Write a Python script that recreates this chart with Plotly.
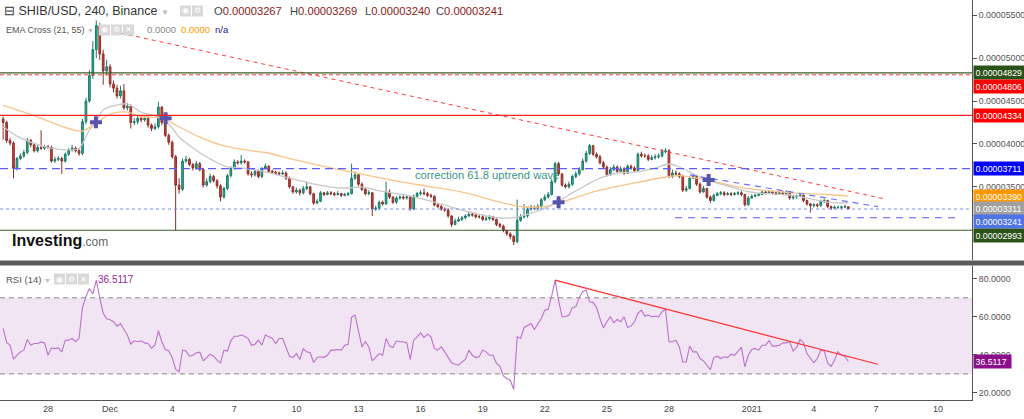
import pandas as pd
import plotly.graph_objects as go

# ---------------- data (prices in units of 1e-8 USD) ----------------
SCALE = 1e-8
START = pd.Timestamp("2020-11-25 20:00")
STEP = pd.Timedelta(hours=4)

first_open = 4290
close = [
    4250, 4040, 4010, 3715, 3830, 3860, 3900, 4040, 3990, 3920,
    3960, 3950, 3970, 3960, 3800, 3820, 3830, 3800, 3880, 3930,
    3950, 3920, 3890, 4260, 4500, 4800, 5100, 5380, 5050, 4850,
    4900, 4700, 4650, 4560, 4620, 4420, 4440, 4250, 4260, 4300,
    4280, 4300, 4220, 4180, 4200, 4430, 4250, 4100, 4020, 3850,
    3520, 3470, 3800, 3820, 3760, 3720, 3770, 3700, 3520, 3560,
    3620, 3570, 3510, 3380, 3480, 3630, 3720, 3790, 3780, 3800,
    3790, 3650, 3640, 3680, 3620, 3710, 3740, 3680, 3670, 3660,
    3650, 3660, 3600, 3500, 3440, 3460, 3430, 3480, 3500, 3420,
    3310, 3330, 3430, 3410, 3430, 3420, 3410, 3420, 3400, 3410,
    3420, 3600, 3640, 3530, 3470, 3420, 3430, 3240, 3250, 3320,
    3300, 3440, 3380, 3320, 3370, 3380, 3370, 3380, 3240, 3390,
    3420, 3430, 3420, 3400, 3390, 3290, 3270, 3240, 3230, 3160,
    3060, 3100, 3120, 3140, 3160, 3180, 3170, 3150, 3150, 3120,
    3130, 3150, 3120, 3060, 3040, 2990, 2950, 2920, 2860, 3110,
    3150, 3160, 3240, 3260, 3250, 3270, 3350, 3380, 3410, 3560,
    3770, 3650, 3520, 3500, 3530, 3620, 3650, 3700, 3800, 3890,
    3980, 3880, 3850, 3780, 3730, 3640, 3700, 3730, 3680, 3710,
    3660, 3740, 3720, 3690, 3880, 3860, 3860, 3820, 3840, 3850,
    3860, 3910, 3920, 3620, 3660, 3650, 3620, 3460, 3480, 3600,
    3620, 3530, 3440, 3480, 3380, 3340, 3400, 3420, 3430, 3410,
    3420, 3410, 3420, 3430, 3410, 3290, 3370, 3390, 3400, 3410,
    3440, 3430, 3440, 3430, 3420, 3430, 3420, 3440, 3370, 3380,
    3390, 3400, 3340, 3300, 3280, 3290, 3280, 3330, 3340, 3270,
    3250, 3260, 3260, 3265, 3267, 3241,
]
high = [
    4320, 4270, 4070, 4030, 3850, 3890, 3930, 4070, 4060, 4010,
    3990, 4160, 3990, 3990, 3980, 3850, 3860, 3850, 3900, 3950,
    3990, 3970, 3940, 4290, 4540, 4860, 5200, 5440, 5410, 5100,
    4980, 4930, 4740, 4690, 4680, 4700, 4480, 4460, 4300, 4330,
    4320, 4330, 4320, 4240, 4240, 4490, 4440, 4270, 4120, 4040,
    3870, 3600, 3830, 3860, 3840, 3780, 3800, 3790, 3720, 3600,
    3650, 3640, 3590, 3530, 3500, 3650, 3740, 3820, 3810, 3870,
    3820, 3800, 3680, 3700, 3700, 3730, 3770, 3750, 3700, 3690,
    3680, 3690, 3680, 3620, 3510, 3490, 3480, 3510, 3560, 3510,
    3430, 3360, 3450, 3440, 3450, 3450, 3440, 3450, 3430, 3430,
    3440, 3770, 3680, 3660, 3550, 3490, 3460, 3440, 3280, 3340,
    3340, 3560, 3470, 3390, 3390, 3400, 3400, 3400, 3400, 3410,
    3440, 3460, 3480, 3440, 3420, 3400, 3310, 3290, 3260, 3250,
    3170, 3130, 3150, 3160, 3180, 3210, 3200, 3190, 3180, 3170,
    3160, 3170, 3160, 3130, 3080, 3060, 3000, 2970, 2940, 3350,
    3180, 3300, 3260, 3290, 3280, 3300, 3370, 3410, 3440, 3590,
    3790, 3790, 3660, 3540, 3560, 3640, 3680, 3730, 3830, 3920,
    4000, 3990, 3900, 3870, 3800, 3750, 3730, 3760, 3750, 3740,
    3730, 3760, 3760, 3740, 3900, 3910, 3890, 3880, 3870, 3880,
    3890, 3940, 3950, 3940, 3700, 3690, 3670, 3640, 3510, 3620,
    3650, 3640, 3550, 3510, 3490, 3400, 3420, 3440, 3450, 3450,
    3440, 3440, 3440, 3450, 3450, 3420, 3390, 3410, 3420, 3430,
    3460, 3460, 3460, 3460, 3450, 3450, 3450, 3460, 3450, 3400,
    3410, 3420, 3410, 3350, 3310, 3310, 3310, 3350, 3360, 3350,
    3280, 3280, 3280, 3280, 3290, 3269,
]
low = [
    4050, 4010, 3980, 3600, 3690, 3810, 3840, 3880, 3960, 3900,
    3900, 3930, 3930, 3940, 3780, 3780, 3800, 3650, 3780, 3860,
    3910, 3900, 3860, 3870, 4230, 4480, 4760, 5000, 4980, 4690,
    4800, 4660, 4600, 4530, 4530, 4400, 4390, 4180, 4220, 4230,
    4250, 4260, 4190, 4150, 4160, 4180, 4220, 4080, 3990, 3830,
    2993, 3420, 3450, 3780, 3740, 3690, 3700, 3680, 3490, 3500,
    3540, 3550, 3480, 3330, 3360, 3460, 3610, 3700, 3760, 3760,
    3770, 3630, 3610, 3620, 3600, 3600, 3700, 3660, 3650, 3640,
    3630, 3640, 3580, 3480, 3420, 3420, 3400, 3410, 3460, 3400,
    3290, 3300, 3320, 3390, 3400, 3400, 3390, 3400, 3380, 3390,
    3390, 3410, 3580, 3510, 3450, 3400, 3400, 3160, 3220, 3230,
    3280, 3290, 3360, 3300, 3300, 3350, 3350, 3350, 3220, 3230,
    3380, 3400, 3400, 3380, 3370, 3270, 3250, 3220, 3210, 3140,
    3030, 3050, 3090, 3100, 3120, 3150, 3150, 3130, 3130, 3100,
    3100, 3110, 3100, 3040, 3020, 2970, 2930, 2890, 2820, 2840,
    3090, 3130, 3140, 3220, 3230, 3230, 3250, 3330, 3360, 3400,
    3540, 3630, 3500, 3480, 3480, 3510, 3600, 3630, 3690, 3780,
    3870, 3860, 3830, 3760, 3710, 3620, 3630, 3680, 3660, 3670,
    3640, 3650, 3700, 3670, 3680, 3840, 3840, 3800, 3810, 3820,
    3830, 3840, 3890, 3600, 3600, 3630, 3600, 3440, 3440, 3470,
    3590, 3510, 3420, 3430, 3360, 3310, 3330, 3390, 3400, 3390,
    3400, 3390, 3400, 3400, 3390, 3270, 3280, 3360, 3380, 3390,
    3400, 3410, 3420, 3410, 3400, 3410, 3400, 3400, 3350, 3350,
    3360, 3380, 3320, 3280, 3200, 3260, 3260, 3270, 3310, 3250,
    3230, 3240, 3240, 3240, 3250, 3240,
]
rsi = [
    53.9, 46.5, 45.1, 37.8, 39.8, 41.6, 42.5, 48.1, 45.2, 46.0,
    46.0, 46.8, 46.3, 39.8, 43.6, 43.3, 43.7, 41.6, 47.7, 47.7,
    48.6, 46.9, 48.6, 65.0, 70.5, 74.9, 72.0, 79.3, 70.0, 61.8,
    59.0, 58.5, 57.4, 55.1, 56.5, 53.4, 50.4, 45.6, 47.4, 46.9,
    47.4, 46.3, 46.0, 43.5, 45.1, 52.7, 46.9, 42.8, 42.1, 38.6,
    32.5, 31.1, 42.5, 42.1, 39.3, 39.8, 41.1, 41.4, 36.9, 38.6,
    40.4, 39.3, 37.2, 35.8, 42.5, 42.0, 47.4, 49.8, 49.8, 50.4,
    49.8, 48.6, 45.0, 45.6, 47.7, 45.1, 50.4, 49.5, 48.6, 46.0,
    48.6, 48.6, 43.9, 39.3, 38.6, 40.7, 37.6, 43.2, 41.6, 41.1,
    36.0, 38.6, 39.0, 38.6, 39.8, 42.5, 42.5, 42.8, 42.5, 45.0,
    45.6, 59.7, 60.9, 53.0, 44.2, 46.9, 44.2, 36.9, 38.6, 40.7,
    39.8, 48.6, 44.6, 43.9, 47.4, 46.9, 46.9, 46.3, 37.6, 47.7,
    49.5, 51.6, 49.2, 50.9, 49.5, 43.4, 42.5, 44.2, 41.6, 39.0,
    35.8, 35.1, 34.6, 36.3, 37.6, 42.5, 39.8, 38.6, 39.0, 42.5,
    41.6, 39.8, 39.8, 35.5, 34.0, 29.0, 27.6, 26.7, 21.8, 49.5,
    48.6, 54.4, 55.5, 56.5, 53.4, 56.2, 59.1, 63.5, 63.9, 71.0,
    79.3, 68.8, 60.0, 60.0, 60.9, 64.9, 65.3, 70.2, 73.2, 74.1,
    67.9, 67.6, 64.9, 59.1, 54.2, 57.4, 60.0, 56.9, 58.6, 57.4,
    60.0, 54.4, 55.1, 57.4, 61.8, 63.5, 60.4, 60.9, 60.0, 60.4,
    60.0, 62.7, 63.9, 46.9, 46.9, 47.7, 44.2, 36.3, 36.3, 44.6,
    41.6, 41.6, 38.1, 36.9, 34.6, 32.3, 38.6, 39.3, 38.1, 39.0,
    38.6, 40.4, 39.8, 41.6, 43.9, 33.7, 39.8, 42.8, 43.4, 42.5,
    45.1, 45.1, 47.4, 44.6, 44.6, 45.1, 46.3, 46.3, 46.9, 42.1,
    43.9, 48.1, 46.3, 40.7, 38.1, 35.8, 38.1, 42.5, 42.1, 35.8,
    34.0, 37.2, 41.6, 39.8, 39.3, 36.5117,
]

ema55_idx = [0, 9, 19, 23, 27, 32, 36, 40, 46, 51, 57, 63, 72, 76, 85, 95, 105, 115,
             124, 134, 144, 150, 156, 161, 168, 173, 183, 193, 196, 204, 214, 223, 233, 239, 245]
ema55_val = [4450, 4330, 4180, 4150, 4250, 4360, 4370, 4320, 4300, 4200, 4080, 3990, 3920,
             3900, 3810, 3720, 3640, 3560, 3500, 3430, 3320, 3270, 3265, 3310, 3400, 3460,
             3545, 3620, 3630, 3580, 3490, 3450, 3420, 3410, 3390]
ema21_idx = [0, 5, 14, 19, 22, 25, 27, 29, 33, 36, 40, 45, 48, 51, 55, 59, 65, 69, 75, 85,
             95, 100, 104, 108, 113, 118, 125, 134, 144, 149, 154, 159, 164, 168, 173, 178,
             183, 189, 193, 196, 202, 204, 209, 214, 219, 228, 233, 239, 245]
ema21_val = [4200, 4070, 3950, 3930, 3950, 4160, 4256, 4396, 4454, 4466, 4372, 4314, 4233,
             4081, 3953, 3848, 3731, 3719, 3684, 3579, 3497, 3486, 3497, 3462, 3427, 3392,
             3322, 3217, 3136, 3147, 3206, 3287, 3404, 3497, 3602, 3661, 3672, 3719, 3766,
             3731, 3614, 3580, 3521, 3462, 3427, 3404, 3369, 3322, 3311]
cross_idx = [26.9, 47.1, 161.0, 204.5]
cross_val = [4252, 4300, 3319, 3580]

level_vals = [4829, 4806, 4334, 3711, 3241, 2993]
label_vals = [4829, 4806, 4334, 3711, 3390, 3311, 3241, 2993]

red_trend_t = ["2020-11-30 08:49", "2021-01-07 10:20"]
red_trend_v = [5353, 3358]
blue_trend_t = ["2020-12-29 00:15", "2021-01-07 02:20"]
blue_trend_v = [3638, 3268]
support_t = ["2020-12-28 07:00", "2021-01-10 19:40"]
support_v = [3139, 3139]
rsi_trend_t = ["2020-12-22 11:50", "2021-01-07 02:20"]
rsi_trend_v = [79.3, 35.1]

x_tickvals = ["2020-11-28", "2020-12-01", "2020-12-04", "2020-12-07", "2020-12-10",
              "2020-12-13", "2020-12-16", "2020-12-19", "2020-12-22", "2020-12-25",
              "2020-12-28", "2021-01-01", "2021-01-04", "2021-01-07", "2021-01-10"]
x_ticktext = ["28", "Dec", "4", "7", "10", "13", "16", "19", "22", "25", "28",
              "2021", "4", "7", "10"]
price_ticks = [3500, 4000, 4500, 5000, 5500]
rsi_ticks = [20, 40, 60, 80]
ohlc_text = [("O", 3267), ("H", 3269), ("L", 3240), ("C", 3241)]

# ---------------- derived ----------------
n = len(close)
times = [START + STEP * i for i in range(n)]
opens = [first_open] + close[:-1]
sc = lambda a: [v * SCALE for v in a]
tt = lambda idx: [START + STEP * i for i in idx]

PLOT_W, PLOT_H = 972, 400
px = lambda x: x / PLOT_W
py = lambda y: (PLOT_H - y) / PLOT_H
FONT = "Liberation Sans"
SMALL = 8.8

fig = go.Figure()
fig.add_trace(go.Candlestick(
    x=times, open=sc(opens), high=sc(high), low=sc(low), close=sc(close),
    increasing=dict(line=dict(color="#1d7a68", width=1), fillcolor="#2aae94"),
    decreasing=dict(line=dict(color="#8f2f28", width=1), fillcolor="#c4463c"),
    whiskerwidth=0, showlegend=False, xaxis="x", yaxis="y"))
fig.add_trace(go.Scatter(x=tt(ema55_idx), y=sc(ema55_val), mode="lines",
                         line=dict(color="#f8c48c", width=1.3, shape="spline"),
                         xaxis="x", yaxis="y"))
fig.add_trace(go.Scatter(x=tt(ema21_idx), y=sc(ema21_val), mode="lines",
                         line=dict(color="#c8c8c8", width=1.3, shape="spline"),
                         xaxis="x", yaxis="y"))
fig.add_trace(go.Scatter(x=red_trend_t, y=sc(red_trend_v), mode="lines",
                         line=dict(color="#ff3b3b", width=1, dash="4px,4px"),
                         xaxis="x", yaxis="y"))
fig.add_trace(go.Scatter(x=blue_trend_t, y=sc(blue_trend_v), mode="lines",
                         line=dict(color="#6d6dff", width=1.2, dash="6px,5px"),
                         xaxis="x", yaxis="y"))
fig.add_trace(go.Scatter(x=support_t, y=sc(support_v), mode="lines",
                         line=dict(color="#5c5cff", width=1.2, dash="7px,6px"),
                         xaxis="x", yaxis="y"))
fig.add_trace(go.Scatter(x=tt(cross_idx), y=sc(cross_val), mode="markers",
                         marker=dict(symbol="cross", size=10, color="#5555b0",
                                     line=dict(width=0)),
                         xaxis="x", yaxis="y"))
fig.add_trace(go.Scatter(x=times, y=rsi, mode="lines",
                         line=dict(color="#bb72cc", width=1.1),
                         xaxis="x", yaxis="y2"))
fig.add_trace(go.Scatter(x=rsi_trend_t, y=rsi_trend_v, mode="lines",
                         line=dict(color="#ff3030", width=1.2),
                         xaxis="x", yaxis="y2"))

shapes = []
level_styles = [("#3d5f2a", "solid", 1.2), ("#ff3b3b", "4px,3px", 1),
                ("#ff2020", "solid", 1.2), ("#5c5cff", "8px,5px", 1.3),
                ("#7a8cff", "dot", 1.2), ("#3d5f2a", "solid", 1.2)]
for v, (c, d, w) in zip(level_vals, level_styles):
    shapes.append(dict(type="line", xref="paper", x0=0, x1=1, yref="y",
                       y0=v * SCALE, y1=v * SCALE, line=dict(color=c, dash=d, width=w)))
# RSI band
shapes.append(dict(type="rect", xref="paper", x0=0, x1=1, yref="y2", y0=30, y1=70,
                   fillcolor="#f2e5f3", line=dict(width=0), layer="below"))
for lv in (30, 70):
    shapes.append(dict(type="line", xref="paper", x0=0, x1=1, yref="y2", y0=lv, y1=lv,
                       line=dict(color="#8a8a8a", dash="5px,4px", width=1), layer="below"))
# separator
shapes.append(dict(type="rect", xref="paper", x0=0, x1=1024 / PLOT_W, yref="paper",
                   y0=py(265.5), y1=py(260.5), fillcolor="#5b5b5b", line=dict(width=0)))

annotations = []
# icons
icon_sets = [([180, 192], 11), ([99, 111, 123], 30), ([54, 66, 78], 279)]
glyphs = ["◉", "⚙", "✕"]
for xs, yc in icon_sets:
    for k, x0 in enumerate(xs):
        shapes.append(dict(type="rect", xref="paper", yref="paper",
                           x0=px(x0), x1=px(x0 + 11), y0=py(yc + 5.5), y1=py(yc - 5.5),
                           fillcolor="#d9d9d9", line=dict(width=0)))
        annotations.append(dict(xref="paper", yref="paper", x=px(x0 + 5.5), y=py(yc),
                                text=glyphs[k], showarrow=False, xanchor="center",
                                yanchor="middle",
                                font=dict(size=8, color="#ffffff", family="DejaVu Sans")))

annotations.append(dict(xref="paper", yref="paper", x=px(2), y=py(11), xanchor="left",
                        yanchor="middle", showarrow=False,
                        text="⊟ SHIB/USD, 240, Binance <span style='font-size:8px;color:#bbbbbb'>▼</span>",
                        font=dict(size=12.5, color="#333333", family=FONT)))
for (lab, val), x0 in zip(ohlc_text, [212, 288, 363, 434]):
    annotations.append(dict(xref="paper", yref="paper", x=px(x0), y=py(11), xanchor="left",
                            yanchor="middle", showarrow=False,
                            text=f"{lab}<span style='color:#8a1c14'>{val * SCALE:.8f}</span>",
                            font=dict(size=11.2, color="#444444", family=FONT)))
annotations.append(dict(xref="paper", yref="paper", x=px(4), y=py(30), xanchor="left",
                        yanchor="middle", showarrow=False,
                        text="EMA Cross (21, 55) <span style='font-size:7px;color:#bbbbbb'>▼</span>",
                        font=dict(size=9, color="#555555", family=FONT)))
for txt, x0, col in [("0.0000", 145, "#888888"), ("0.0000", 179, "#ff9900"),
                     ("n/a", 213, "#1a1a8c")]:
    annotations.append(dict(xref="paper", yref="paper", x=px(x0), y=py(30), xanchor="left",
                            yanchor="middle", showarrow=False, text=txt,
                            font=dict(size=9.5, color=col, family=FONT)))
annotations.append(dict(xref="paper", yref="paper", x=px(4), y=py(279), xanchor="left",
                        yanchor="middle", showarrow=False,
                        text="RSI (14) <span style='font-size:7px;color:#bbbbbb'>▼</span>",
                        font=dict(size=9.5, color="#555555", family=FONT)))
annotations.append(dict(xref="paper", yref="paper", x=px(96), y=py(279), xanchor="left",
                        yanchor="middle", showarrow=False, text=f"{rsi[-1]:.4f}",
                        font=dict(size=10, color="#8e2a92", family=FONT)))
annotations.append(dict(xref="paper", yref="paper", x=px(10), y=py(240), xanchor="left",
                        yanchor="middle", showarrow=False,
                        text="<b>Investing</b><span style='font-size:12px;color:#666666'>.com</span>",
                        font=dict(size=16, color="#111111", family=FONT)))
annotations.append(dict(xref="x", yref="y", x="2020-12-15 15:00", y=3638 * SCALE,
                        xanchor="left", yanchor="middle", showarrow=False,
                        text="correction 61.8 uptrend wave",
                        font=dict(size=11.2, color="#3a9686", family=FONT)))

# right-axis value labels
label_styles = [("#2b5219", 0), ("#ff0000", -12), ("#ff0000", 0), ("#0000ff", 0),
                ("#ff9800", 0), ("#a0a0a0", -6), ("#4f73e8", -13), ("#2b5219", -5)]
for v, (bg, ys) in zip(label_vals, label_styles):
    annotations.append(dict(xref="paper", yref="y", x=1, y=v * SCALE, xanchor="left",
                            yanchor="middle", yshift=ys, xshift=1, showarrow=False,
                            text=f"{v * SCALE:.8f}", bgcolor=bg, borderpad=1.5, width=49,
                            align="left", font=dict(size=SMALL, color="#ffffff", family=FONT)))
annotations.append(dict(xref="paper", yref="y2", x=1, y=rsi[-1], xanchor="left",
                        yanchor="middle", xshift=1, showarrow=False,
                        text=f"{rsi[-1]:.4f}", bgcolor="#8b0f8b", borderpad=1.5, width=34,
                        align="left", font=dict(size=SMALL, color="#ffffff", family=FONT)))

fig.update_layout(
    width=1024, height=419, autosize=False,
    margin=dict(l=0, r=52, t=0, b=19),
    paper_bgcolor="#ffffff", plot_bgcolor="#ffffff",
    showlegend=False, hovermode=False,
    shapes=shapes, annotations=annotations,
    xaxis=dict(type="date", anchor="y2", range=["2020-11-25 16:21", "2021-01-11 15:22"],
               tickvals=x_tickvals, ticktext=x_ticktext, showgrid=False, zeroline=False,
               showline=True, linecolor="#555555", linewidth=1, ticks="",
               tickfont=dict(size=9, color="#444444", family=FONT),
               rangeslider=dict(visible=False)),
    yaxis=dict(domain=[0.35, 1], anchor="x", side="right",
               range=[2646 * SCALE, 5679 * SCALE], tickvals=sc(price_ticks),
               tickformat=".8f", showgrid=False, zeroline=False, showline=True,
               linecolor="#555555", linewidth=1, ticks="outside", ticklen=4,
               tickcolor="#555555", tickfont=dict(size=SMALL, color="#555555", family=FONT)),
    yaxis2=dict(domain=[0, 0.335], anchor="x", side="right", range=[16.3, 86.7],
                tickvals=rsi_ticks, tickformat=".4f", showgrid=False, zeroline=False,
                showline=True, linecolor="#555555", linewidth=1, ticks="outside",
                ticklen=4, tickcolor="#555555",
                tickfont=dict(size=SMALL, color="#555555", family=FONT)),
)

fig.write_html("out.html", config={"displayModeBar": False})
